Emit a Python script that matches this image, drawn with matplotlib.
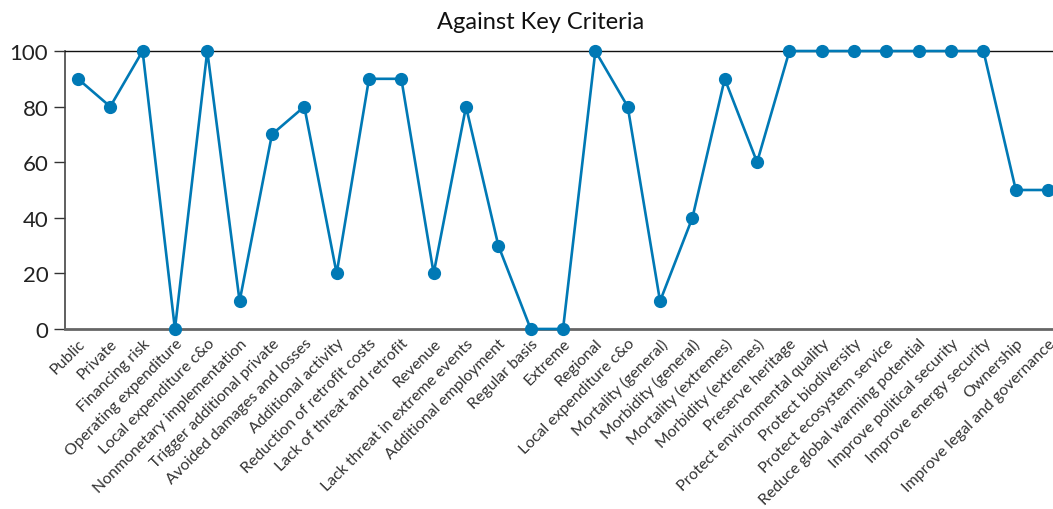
import matplotlib
matplotlib.use("Agg")
import matplotlib.pyplot as plt

plt.rcParams['font.family'] = ['Lato', 'DejaVu Sans']

criteria = ["Public", "Private", "Financing risk", "Operating expenditure",
            "Local expenditure c&o", "Nonmonetary implementation",
            "Trigger additional private", "Avoided damages and losses",
            "Additional activity", "Reduction of retrofit costs",
            "Lack of threat and retrofit", "Revenue",
            "Lack threat in extreme events", "Additional employment",
            "Regular basis", "Extreme", "Regional", "Local expenditure c&o",
            "Mortality (general)", "Morbidity (general)", "Mortality (extremes)",
            "Morbidity (extremes)", "Preserve heritage",
            "Protect environmental quality", "Protect biodiversity",
            "Protect ecosystem service", "Reduce global warming potential",
            "Improve political security", "Improve energy security",
            "Ownership", "Improve legal and governance"]
scores = [90, 80, 100, 0, 100, 10, 70, 80, 20, 90, 90, 20, 80, 30, 0, 0,
          100, 80, 10, 40, 90, 60, 100, 100, 100, 100, 100, 100, 100, 50, 50]
yticks = [0, 20, 40, 60, 80, 100]

fig = plt.figure(figsize=(10.53, 5.10), dpi=100, facecolor='white')
ax = fig.add_axes([0.0617, 0.353, 0.9383, 0.545])

x = list(range(len(criteria)))
ax.plot(x, scores, color='#0079b5', lw=1.9, marker='o', ms=8.5, zorder=3,
        clip_on=False)

ax.set_xlim(-0.4, 30.15)
ax.set_ylim(0, 100)
ax.set_yticks(yticks)
ax.set_yticklabels([str(v) for v in yticks], fontsize=16, color='#222222')
ax.set_xticks(x)
ax.set_xticklabels(criteria, rotation=45, ha='right', rotation_mode='anchor',
                   fontsize=11.4, color='#333333')
ax.tick_params(axis='x', length=0, pad=5)
ax.tick_params(axis='y', length=8, width=1, color='#333333', pad=4)

ax.spines['right'].set_visible(False)
ax.spines['top'].set_color('#111111')
ax.spines['top'].set_linewidth(1.0)
ax.spines['left'].set_color('#444444')
ax.spines['left'].set_linewidth(1.2)
ax.spines['bottom'].set_color('#666666')
ax.spines['bottom'].set_linewidth(2.0)

fig.text(0.513, 0.955, "Against Key Criteria", fontsize=17, color='#111111',
         ha='center', va='center')

fig.savefig("out.png", dpi=100, facecolor='white')
